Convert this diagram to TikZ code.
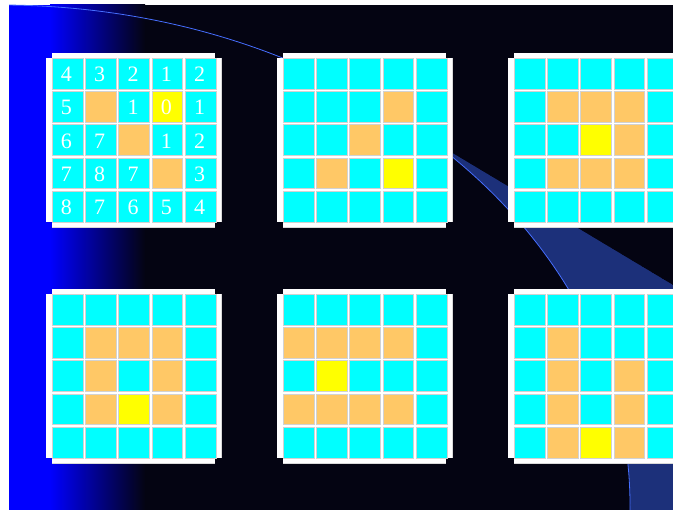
\documentclass[tikz,border=0pt]{standalone}
\usepackage{fontspec}
\setmainfont{Liberation Serif}
\definecolor{bgdark}{RGB}{4,4,18}
\definecolor{bandblue}{RGB}{28,48,122}
\definecolor{arcblue}{RGB}{70,110,255}
\definecolor{cellcy}{RGB}{0,255,255}
\definecolor{cellor}{RGB}{255,200,102}
\definecolor{cellye}{RGB}{255,255,0}

\begin{document}
\begin{tikzpicture}[x=1pt,y=-1pt,
  cy/.style={fill=cellcy,draw=gray!35,line width=0.5pt},
  ob/.style={fill=cellor,draw=gray!35,line width=0.5pt},
  tg/.style={fill=cellye,draw=gray!35,line width=0.5pt},
  frm/.style={fill=white},
  rim/.style={draw=gray!30,line width=0.5pt},
  num/.style={text=white,font=\fontsize{22}{22}\selectfont,inner sep=0pt}]
% cell size and cell pitch (pixels)
\def\dcell{30.8}\def\dstep{33.3}
\useasboundingbox (0,0) rectangle (673,510);
\clip (0,0) rectangle (673,510);
%------------- background
\fill[white] (0,0) rectangle (673,510);
\begin{scope}
\clip (9,5) rectangle (673,510);
\fill[bgdark] (9,5) rectangle (673,510);
\fill[blue] (9,5) rectangle (50,510);
\shade[left color=blue,right color=bgdark] (50,5) rectangle (145,510);
\begin{scope}
\clip (430,139.6) -- (673,285) -- (673,510) -- (430,510) -- cycle;
\fill[bandblue] (430,139.6) -- (673,285) -- (673,510) -- (430,510) -- cycle;
\fill[bgdark] (0,505) ellipse [x radius=630,y radius=500];
\end{scope}
\draw[arcblue,line width=0.8pt] (0,505) ellipse [x radius=630,y radius=500];
\end{scope}
%------------- panel 1: distances
\begin{scope}[shift={(46,53)}]
\fill[frm] (6,0) rectangle (169,174); \fill[frm] (0,5) rectangle (175,169);
\draw[rim] (6,174) -- (169,174); \draw[rim] (175,5) -- (175,169);
\foreach \r in {0,...,4} \foreach \c in {0,...,4}
  \draw[cy] ({6+\c*\dstep},{5+\r*\dstep}) rectangle ++(\dcell,\dcell);
\foreach \c/\r in {1/1,2/2,3/3}
  \draw[ob] ({6+\c*\dstep},{5+\r*\dstep}) rectangle ++(\dcell,\dcell);
\draw[tg] ({6+3*\dstep},{5+1*\dstep}) rectangle ++(\dcell,\dcell);
\foreach \c/\r/\v in {0/0/4,1/0/3,2/0/2,3/0/1,4/0/2,
                      0/1/5,2/1/1,3/1/0,4/1/1,
                      0/2/6,1/2/7,3/2/1,4/2/2,
                      0/3/7,1/3/8,2/3/7,4/3/3,
                      0/4/8,1/4/7,2/4/6,3/4/5,4/4/4}
  \node[num] (d\c\r) at ({5+\c*\dstep+\dcell/2},{6+\r*\dstep+\dcell/2}) {\v};
\end{scope}
%------------- panel 2
\begin{scope}[shift={(277,53)}]
\fill[frm] (6,0) rectangle (169,174); \fill[frm] (0,5) rectangle (175,169);
\draw[rim] (6,174) -- (169,174); \draw[rim] (175,5) -- (175,169);
\foreach \r in {0,...,4} \foreach \c in {0,...,4}
  \draw[cy] ({6+\c*\dstep},{5+\r*\dstep}) rectangle ++(\dcell,\dcell);
\foreach \c/\r in {3/1,2/2,1/3}
  \draw[ob] ({6+\c*\dstep},{5+\r*\dstep}) rectangle ++(\dcell,\dcell);
\draw[tg] ({6+3*\dstep},{5+3*\dstep}) rectangle ++(\dcell,\dcell);
\end{scope}
%------------- panel 3
\begin{scope}[shift={(508,53)}]
\fill[frm] (6,0) rectangle (169,174); \fill[frm] (0,5) rectangle (175,169);
\draw[rim] (6,174) -- (169,174);
\foreach \r in {0,...,4} \foreach \c in {0,...,4}
  \draw[cy] ({6+\c*\dstep},{5+\r*\dstep}) rectangle ++(\dcell,\dcell);
\foreach \c/\r in {1/1,2/1,3/1,3/2,1/3,2/3,3/3}
  \draw[ob] ({6+\c*\dstep},{5+\r*\dstep}) rectangle ++(\dcell,\dcell);
\draw[tg] ({6+2*\dstep},{5+2*\dstep}) rectangle ++(\dcell,\dcell);
\end{scope}
%------------- panel 4
\begin{scope}[shift={(46,289)}]
\fill[frm] (6,0) rectangle (169,174); \fill[frm] (0,5) rectangle (175,169);
\draw[rim] (6,174) -- (169,174); \draw[rim] (175,5) -- (175,169);
\foreach \r in {0,...,4} \foreach \c in {0,...,4}
  \draw[cy] ({6+\c*\dstep},{5+\r*\dstep}) rectangle ++(\dcell,\dcell);
\foreach \c/\r in {1/1,2/1,3/1,1/2,3/2,1/3,3/3}
  \draw[ob] ({6+\c*\dstep},{5+\r*\dstep}) rectangle ++(\dcell,\dcell);
\draw[tg] ({6+2*\dstep},{5+3*\dstep}) rectangle ++(\dcell,\dcell);
\end{scope}
%------------- panel 5
\begin{scope}[shift={(277,289)}]
\fill[frm] (6,0) rectangle (169,174); \fill[frm] (0,5) rectangle (175,169);
\draw[rim] (6,174) -- (169,174); \draw[rim] (175,5) -- (175,169);
\foreach \r in {0,...,4} \foreach \c in {0,...,4}
  \draw[cy] ({6+\c*\dstep},{5+\r*\dstep}) rectangle ++(\dcell,\dcell);
\foreach \c/\r in {0/1,1/1,2/1,3/1,0/3,1/3,2/3,3/3}
  \draw[ob] ({6+\c*\dstep},{5+\r*\dstep}) rectangle ++(\dcell,\dcell);
\draw[tg] ({6+1*\dstep},{5+2*\dstep}) rectangle ++(\dcell,\dcell);
\end{scope}
%------------- panel 6
\begin{scope}[shift={(508,289)}]
\fill[frm] (6,0) rectangle (169,174); \fill[frm] (0,5) rectangle (175,169);
\draw[rim] (6,174) -- (169,174);
\foreach \r in {0,...,4} \foreach \c in {0,...,4}
  \draw[cy] ({6+\c*\dstep},{5+\r*\dstep}) rectangle ++(\dcell,\dcell);
\foreach \c/\r in {1/1,1/2,3/2,1/3,3/3,1/4,3/4}
  \draw[ob] ({6+\c*\dstep},{5+\r*\dstep}) rectangle ++(\dcell,\dcell);
\draw[tg] ({6+2*\dstep},{5+4*\dstep}) rectangle ++(\dcell,\dcell);
\end{scope}
\end{tikzpicture}
\end{document}
